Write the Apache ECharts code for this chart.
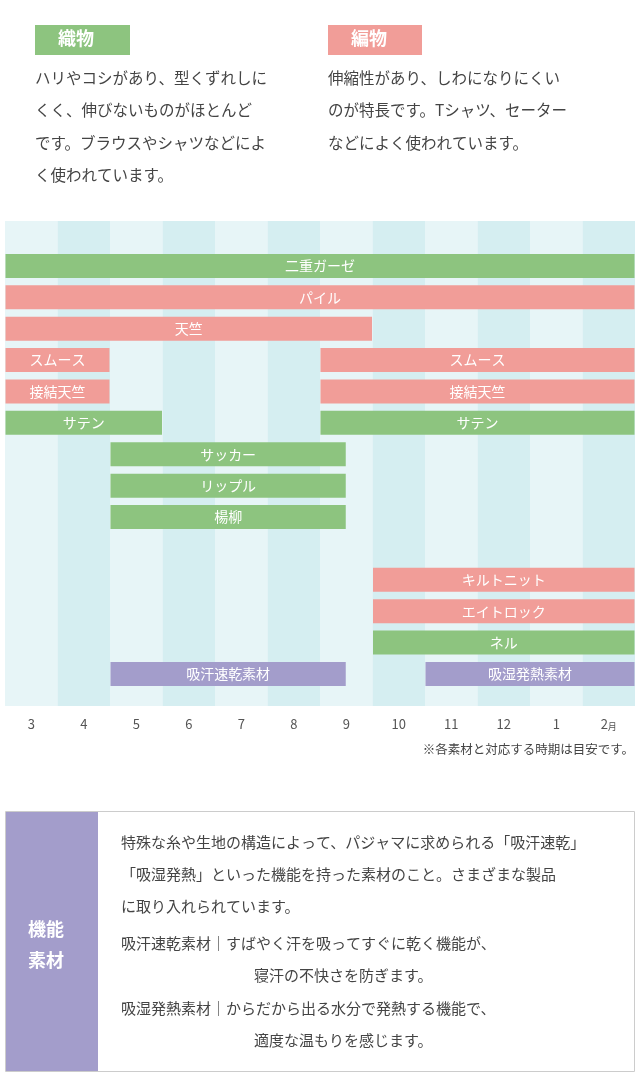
<!DOCTYPE html>
<html><head><meta charset="utf-8">
<script src="https://cdn.jsdelivr.net/npm/echarts@6/dist/echarts.min.js"></script>
<style>html,body{margin:0;padding:0;background:#fff}#c{width:640px;height:1091px}</style>
</head><body><div id="c"></div>
<script>
const months = ['3','4','5','6','7','8','9','10','11','12','1','2'];
const barNames = ['二重ガーゼ','パイル','天竺','スムース','接結天竺','サテン','サッカー','リップル','楊柳','スムース','接結天竺','サテン','キルトニット','エイトロック','ネル','吸汗速乾素材','吸湿発熱素材'];
const barRows  = [0,1,2,3,4,5,6,7,8,3,4,5,10,11,12,13,13];
const barStart = [0,0,0,0,0,0,2,2,2,6,6,6,7,7,7,2,8];
const barEnd   = [12,12,7,2,2,3,6.5,6.5,6.5,12,12,12,12,12,12,6.5,12];
const barKind  = ['woven','knit','knit','knit','knit','woven','woven','woven','woven','knit','knit','woven','knit','knit','woven','func','func'];
const kindColor = {woven:'#8dc47f', knit:'#f19d98', func:'#a39dcb'};

const F = '"Noto Sans CJK JP","Noto Sans",sans-serif';
const chart = echarts.init(document.getElementById('c'));
const data = barNames.map((n,i)=>[barStart[i],barEnd[i],barRows[i],n,barKind[i]]);
const txt = (x,y,t,o={}) => ({type:'text',left:x,top:y,style:Object.assign({text:t,fill:'#444',font:'15px '+F},o)});
const para = (x,y,lines) => lines.map((l,i)=>txt(x,y+i*32.5,l,{font:'15.5px '+F, fill:'#444'}));
chart.setOption({
  animation:false,
  grid:{left:5,right:5,top:221,bottom:385},
  xAxis:[
    {type:'category',data:months,position:'bottom',axisLine:{show:false},axisTick:{show:false},
     splitArea:{show:true,areaStyle:{color:['#e7f5f7','#d5eef1']}},
     axisLabel:{margin:12,color:'#555',fontSize:13,fontFamily:F,
       formatter:v=>v==='2'?'2{s|月}':v,rich:{s:{fontSize:9,color:'#555',verticalAlign:'bottom'}}}},
    {type:'value',min:0,max:12,show:false,splitLine:{show:false}}
  ],
  yAxis:{type:'value',min:-1.43,max:14.02,inverse:true,show:false,splitLine:{show:false}},
  series:[{
    type:'custom',xAxisIndex:1,data:data,
    renderItem:(p,api)=>{
      const a=api.coord([api.value(0),api.value(2)]), b=api.coord([api.value(1),api.value(2)]);
      const h=24, k=barKind[p.dataIndex];
      return {type:'group',children:[
        {type:'rect',shape:{x:a[0]+0.5,y:a[1]-h/2,width:b[0]-a[0]-1,height:h},style:{fill:kindColor[k]}},
        {type:'text',style:{text:barNames[p.dataIndex],x:(a[0]+b[0])/2,y:a[1],align:'center',verticalAlign:'middle',fill:'#fff',font:'14px '+F}}
      ]};
    }
  }],
  graphic:[
    {type:'rect',shape:{x:35,y:25,width:95,height:30},style:{fill:'#8dc47f'}},
    {type:'text',left:58,top:29,style:{text:'織物',fill:'#fff',font:'bold 18px '+F}},
    {type:'rect',shape:{x:328,y:25,width:94,height:30},style:{fill:'#f19d98'}},
    {type:'text',left:351,top:29,style:{text:'編物',fill:'#fff',font:'bold 18px '+F}},
    ...para(35,70,['ハリやコシがあり、型くずれしに','くく、伸びないものがほとんど','です。ブラウスやシャツなどによ','く使われています。']),
    ...para(328,70,['伸縮性があり、しわになりにくい','のが特長です。Tシャツ、セーター','などによく使われています。']),
    {type:'text',right:6,top:743,style:{text:'※各素材と対応する時期は目安です。',fill:'#444',font:'12.5px '+F}},
    {type:'rect',shape:{x:5.5,y:811.5,width:629,height:260},style:{fill:'#fff',stroke:'#ccc',lineWidth:1}},
    {type:'rect',shape:{x:6,y:812,width:92,height:259},style:{fill:'#a39dcb'}},
    {type:'text',left:28,top:914,style:{text:'機能\n素材',fill:'#fff',font:'bold 18px '+F,lineHeight:31}},
    txt(121,835,'特殊な糸や生地の構造によって、パジャマに求められる「吸汗速乾」'),
    txt(121,867,'「吸湿発熱」といった機能を持った素材のこと。さまざまな製品'),
    txt(121,899,'に取り入れられています。'),
    txt(121,936,'吸汗速乾素材｜すばやく汗を吸ってすぐに乾く機能が、'),
    txt(254,968,'寝汗の不快さを防ぎます。'),
    txt(121,1001,'吸湿発熱素材｜からだから出る水分で発熱する機能で、'),
    txt(254,1033,'適度な温もりを感じます。')
  ]
});
</script></body></html>
